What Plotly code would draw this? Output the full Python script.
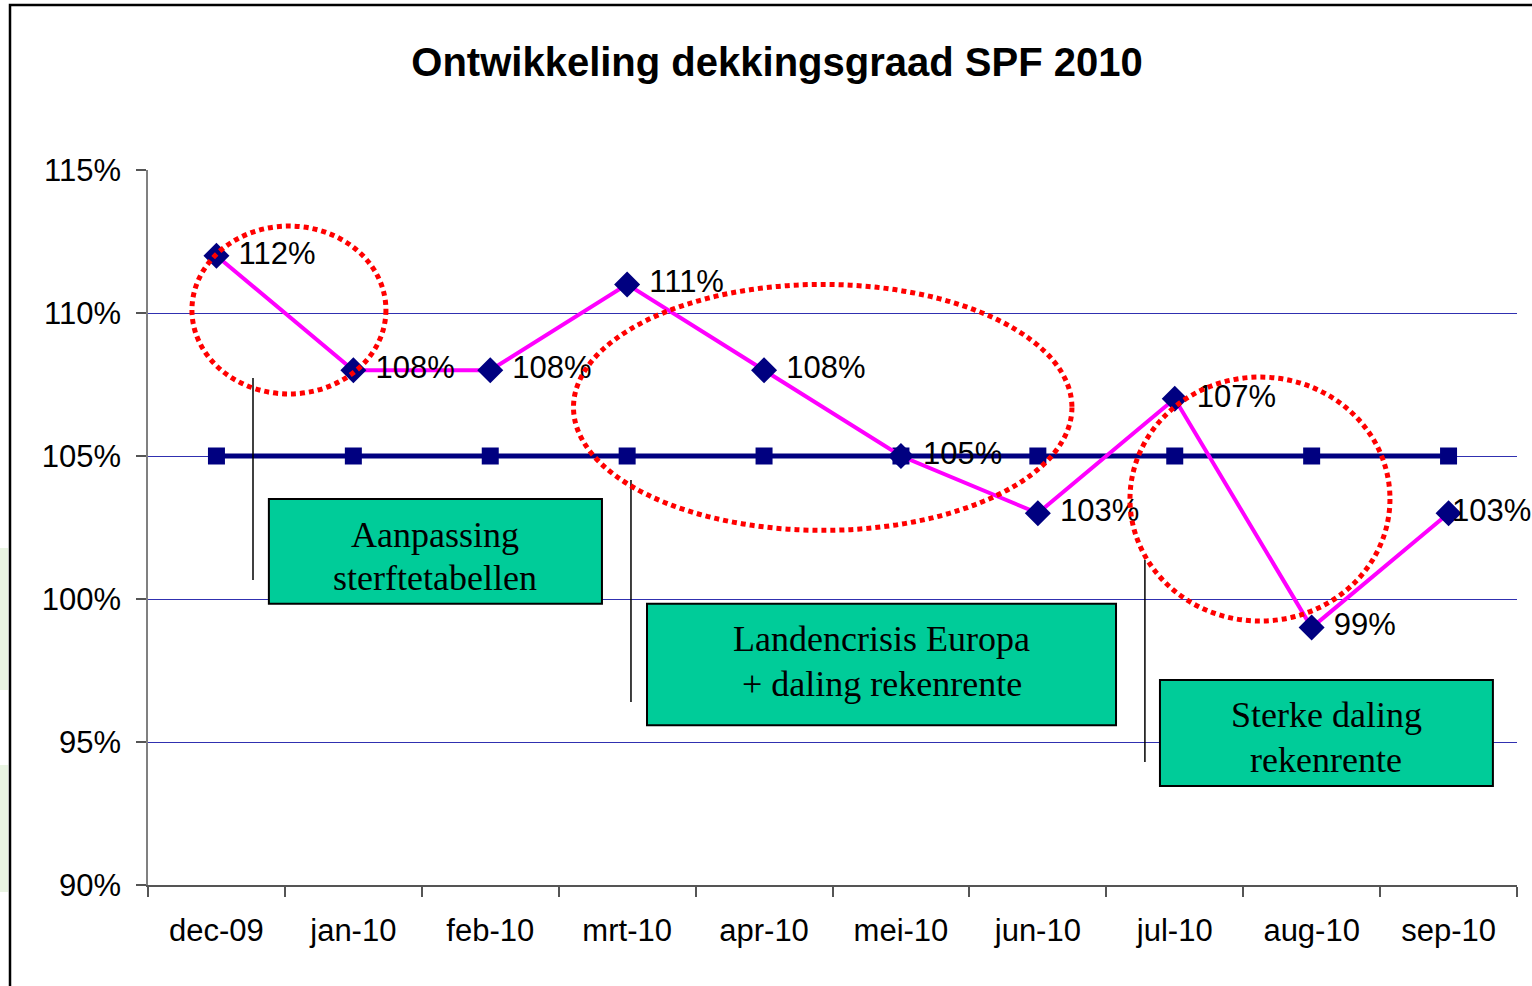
import plotly.graph_objects as go

# ---- data ----
months = ["dec-09", "jan-10", "feb-10", "mrt-10", "apr-10", "mei-10",
          "jun-10", "jul-10", "aug-10", "sep-10"]
dekkingsgraad = [112, 108, 108, 111, 108, 105, 103, 107, 99, 103]
minimum_dg = [105, 105, 105, 105, 105, 105, 105, 105, 105, 105]
y_ticks = [90, 95, 100, 105, 110, 115]
title_text = "Ontwikkeling dekkingsgraad SPF 2010"

# annotation boxes: (x0, x1, y0, y1) in category-index / percent units
boxes = [
    (0.383, 2.816, 99.83, 103.50),
    (3.145, 6.571, 95.59, 99.83),
    (6.892, 9.324, 93.46, 97.17),
]
# box text lines: (text, y) ; x is box centre
box_lines = [
    [("Aanpassing", 102.24), ("sterftetabellen", 100.73)],
    [("Landencrisis Europa", 98.60), ("+ daling rekenrente", 97.03)],
    [("Sterke daling", 95.94), ("rekenrente", 94.37)],
]
# marker lines: (x, y0, y1)
pointer_lines = [(0.267, 100.66, 107.73), (3.028, 96.40, 104.16), (6.782, 94.30, 101.36)]
# dotted ellipses: (x0, x1, y0, y1)
ellipses = [(-0.179, 1.238, 107.17, 113.04), (2.608, 6.249, 102.40, 111.00),
            (6.673, 8.572, 99.23, 107.76)]

W, H = 1532, 986
L, R, T, B = 148, 15, 170, 101
pw, ph = W - L - R, H - T - B


def px_x(p):
    return (p - L) / pw


def px_y(p):
    return (H - B - p) / ph


NB = "\u00a0"
labels = [f"{NB}{v}%" for v in dekkingsgraad]
positions = ["middle right"] * len(dekkingsgraad)
labels[-1] = NB * 10 + f"{dekkingsgraad[-1]}%"
positions[-1] = "middle center"

fig = go.Figure()

fig.add_trace(go.Scatter(
    x=months, y=minimum_dg, mode="lines+markers",
    line=dict(color="#000080", width=5),
    marker=dict(symbol="square", size=17, color="#000080"),
    hoverinfo="skip", showlegend=False,
))
fig.add_trace(go.Scatter(
    x=months, y=dekkingsgraad, mode="lines+markers+text",
    line=dict(color="#FF00FF", width=4),
    marker=dict(symbol="diamond", size=20, color="#000080"),
    text=labels, textposition=positions, cliponaxis=False,
    textfont=dict(family="Liberation Sans, Arial", size=31, color="black"),
    showlegend=False,
))

shapes = []
# faint green background remnants at left edge
shapes.append(dict(type="rect", xref="paper", yref="paper", layer="below",
                   x0=px_x(-5), x1=px_x(8), y0=px_y(690), y1=px_y(548),
                   fillcolor="#e9f4e2", line=dict(width=0)))
shapes.append(dict(type="rect", xref="paper", yref="paper", layer="below",
                   x0=px_x(-5), x1=px_x(8), y0=px_y(892), y1=px_y(765),
                   fillcolor="#e9f4e2", line=dict(width=0)))
# outer border of chart
shapes.append(dict(type="rect", xref="paper", yref="paper",
                   x0=px_x(10), x1=px_x(1545), y0=px_y(1000), y1=px_y(5),
                   line=dict(color="black", width=2.5), fillcolor="rgba(0,0,0,0)"))

for (x, y0, y1) in pointer_lines:
    shapes.append(dict(type="line", xref="x", yref="y", x0=x, x1=x, y0=y0, y1=y1,
                       line=dict(color="black", width=1.5)))
for (x0, x1, y0, y1) in boxes:
    shapes.append(dict(type="rect", xref="x", yref="y", x0=x0, x1=x1, y0=y0, y1=y1,
                       fillcolor="#00CC99", line=dict(color="black", width=2)))
for (x0, x1, y0, y1) in ellipses:
    shapes.append(dict(type="circle", xref="x", yref="y", x0=x0, x1=x1, y0=y0, y1=y1,
                       line=dict(color="#FF0000", width=5, dash="5px,4px")))

annotations = []
for (x0, x1, y0, y1), lines in zip(boxes, box_lines):
    for txt, yv in lines:
        annotations.append(dict(x=(x0 + x1) / 2, y=yv, xref="x", yref="y",
                                text=txt, showarrow=False, yanchor="middle",
                                font=dict(family="Liberation Serif, Times New Roman",
                                          size=36, color="black")))

fig.update_layout(
    width=W, height=H,
    margin=dict(l=L, r=R, t=T, b=B),
    paper_bgcolor="white", plot_bgcolor="white",
    title=dict(text=title_text, x=777 / W, y=1 - 62 / H, xanchor="center",
               yanchor="middle",
               font=dict(family="Liberation Sans, Arial", size=40, color="black",
                         weight="bold")),
    shapes=shapes, annotations=annotations,
    xaxis=dict(type="category", range=[-0.5, 9.5], showgrid=False,
               showline=True, linecolor="#555555", linewidth=1.5,
               ticks="outside", tickson="boundaries", ticklen=10,
               tickcolor="#555555", tickwidth=1.5,
               ticklabelstandoff=17,
               tickfont=dict(family="Liberation Sans, Arial", size=31, color="black")),
    yaxis=dict(range=[90, 115], tickvals=y_ticks, ticktext=[f"{v}%" for v in y_ticks],
               showgrid=True, gridcolor="#3030b0", gridwidth=1,
               zeroline=False, showline=True, linecolor="#808080", linewidth=1.5,
               ticks="outside", ticklen=10, tickcolor="#555555", tickwidth=1.5,
               ticklabelstandoff=9,
               tickfont=dict(family="Liberation Sans, Arial", size=31, color="black")),
)

fig.write_html("out.html", config={"displayModeBar": False},
               post_script="document.body.style.margin='0px';document.body.style.overflow='hidden';")
